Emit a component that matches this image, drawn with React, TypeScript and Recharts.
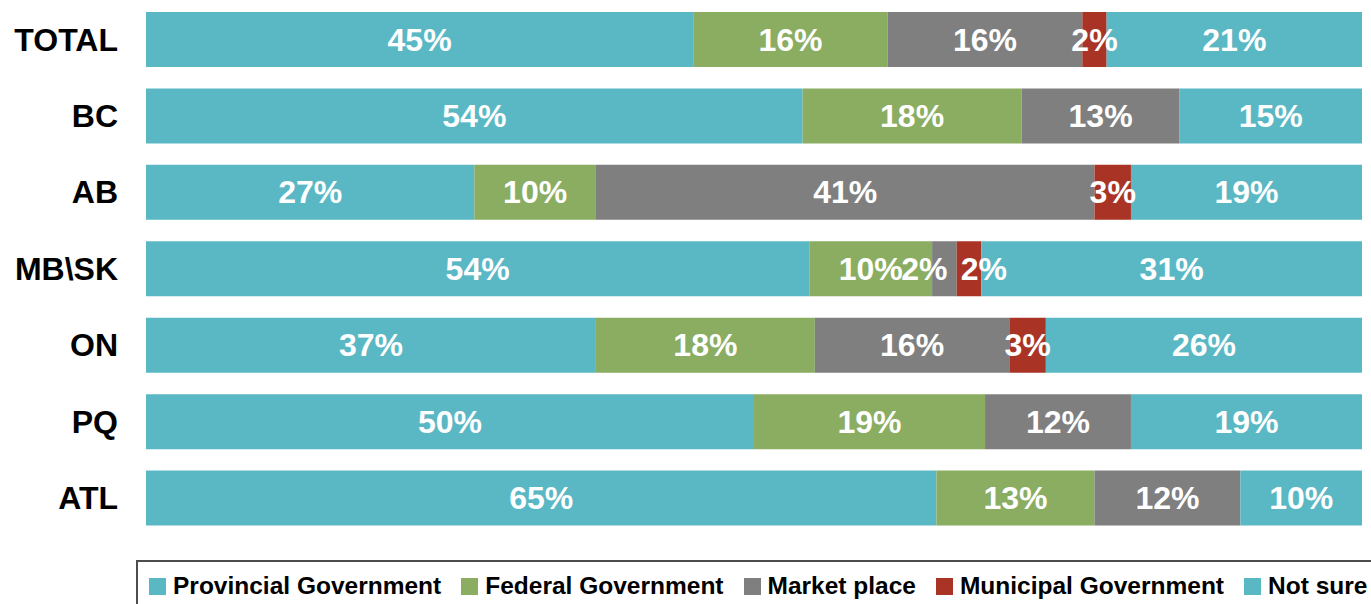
import React from "react";
import { Bar, BarChart, LabelList, XAxis, YAxis } from "recharts";

const regions = ["TOTAL", "BC", "AB", "MB\\SK", "ON", "PQ", "ATL"];
const provincial = [45, 54, 27, 54, 37, 50, 65];
const federal = [16, 18, 10, 10, 18, 19, 13];
const marketPlace = [16, 13, 41, 2, 16, 12, 12];
const municipal = [2, 0, 3, 2, 3, 0, 0];
const notSure = [21, 15, 19, 31, 26, 19, 10];

const series = [
  { key: "provincial", name: "Provincial Government", color: "#5AB8C5" },
  { key: "federal", name: "Federal Government", color: "#8AAD62" },
  { key: "market", name: "Market place", color: "#7F7F7F" },
  { key: "municipal", name: "Municipal Government", color: "#A93426" },
  { key: "notSure", name: "Not sure", color: "#5AB8C5" },
];

const data = regions.map((region, i) => ({
  region,
  provincial: provincial[i],
  federal: federal[i],
  market: marketPlace[i],
  municipal: municipal[i],
  notSure: notSure[i],
}));

const FONT = "'Liberation Sans', Arial, sans-serif";

// the thin MB\SK labels were pulled apart by hand in the original
const labelNudge: Record<string, number> = {
  "MB\\SK|market": -20,
  "MB\\SK|municipal": 15,
};

const makeLabel = (seriesKey: string) => (props: any) => {
  const [region, raw] = String(props.value).split("|");
  if (!Number(raw)) return null;
  const box = props.viewBox && props.viewBox.width != null ? props.viewBox : props;
  const dx = labelNudge[`${region}|${seriesKey}`] || 0;
  return (
    <text
      x={Number(box.x) + Number(box.width) / 2 + dx}
      y={Number(box.y) + Number(box.height) / 2}
      textAnchor="middle"
      dominantBaseline="central"
      fill="#fff"
      style={{ fontSize: 32, fontWeight: "bold", fontFamily: FONT }}
    >
      {`${raw}%`}
    </text>
  );
};

const ChartLegend = () => (
  <div
    style={{
      position: "absolute",
      left: 136,
      top: 560,
      width: 1300,
      height: 60,
      border: "2px solid #4d4d4d",
      boxSizing: "border-box",
      paddingTop: 12,
      paddingLeft: 11,
      display: "flex",
      alignItems: "flex-start",
      gap: 20,
      fontFamily: FONT,
      fontWeight: "bold",
      fontSize: 24.5,
      lineHeight: "24px",
      color: "#000",
      whiteSpace: "nowrap",
    }}
  >
    {series.map((s) => (
      <div key={s.key} style={{ display: "flex", alignItems: "center", gap: 7 }}>
        <span style={{ width: 17, height: 17, background: s.color, display: "inline-block" }} />
        <span>{s.name}</span>
      </div>
    ))}
  </div>
);

const App = () => (
  <div style={{ position: "absolute", left: 0, top: 0, width: 1371, height: 604, overflow: "hidden", background: "#fff" }}>
    <BarChart
      width={1371}
      height={604}
      data={data}
      layout="vertical"
      stackOffset="expand"
      barSize={55}
      margin={{ top: 1, right: 9, bottom: 68, left: 0 }}
    >
      <XAxis type="number" hide domain={[0, 1]} />
      <YAxis
        type="category"
        dataKey="region"
        width={146}
        axisLine={false}
        tickLine={false}
        tickSize={0}
        tickMargin={28}
        tick={{ fill: "#000", fontSize: 32, fontWeight: "bold", fontFamily: FONT }}
      />
      {series.map((s) => (
        <Bar key={s.key} dataKey={s.key} name={s.name} stackId="a" fill={s.color} isAnimationActive={false}>
          <LabelList
            dataKey={(d: any) => `${d.region}|${d[s.key]}`}
            content={makeLabel(s.key)}
          />
        </Bar>
      ))}
    </BarChart>
    <ChartLegend />
  </div>
);

export default App;
